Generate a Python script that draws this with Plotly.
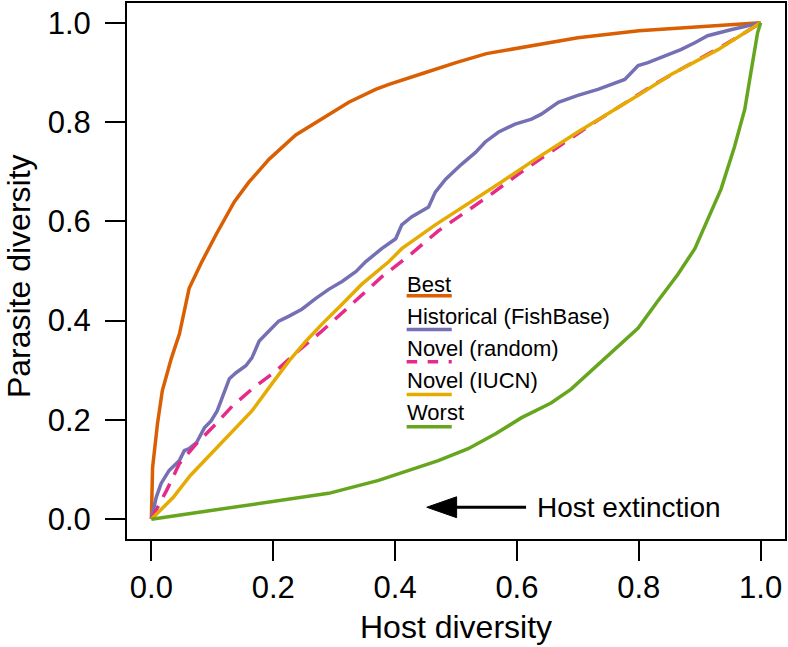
import plotly.graph_objects as go

# ---------------- data ----------------
best_x = [0, 0.002, 0.010, 0.018, 0.033, 0.046, 0.062, 0.083, 0.106, 0.136, 0.160, 0.193, 0.237,
          0.280, 0.324, 0.368, 0.390, 0.45, 0.50, 0.55, 0.635, 0.70, 0.80, 0.908, 1.0]
best_y = [0, 0.104, 0.192, 0.259, 0.325, 0.373, 0.465, 0.519, 0.573, 0.639, 0.679, 0.725, 0.774,
          0.806, 0.840, 0.866, 0.876, 0.900, 0.920, 0.938, 0.956, 0.970, 0.984, 0.992, 1.0]

hist_x = [0, 0.008, 0.016, 0.029, 0.046, 0.054, 0.062, 0.074, 0.087, 0.098, 0.108, 0.119, 0.128,
          0.139, 0.155, 0.165, 0.177, 0.193, 0.209, 0.226, 0.247, 0.270, 0.291, 0.313, 0.336,
          0.352, 0.378, 0.401, 0.411, 0.427, 0.455, 0.466, 0.483, 0.509, 0.532, 0.548, 0.570,
          0.597, 0.624, 0.640, 0.668, 0.700, 0.733, 0.777, 0.799, 0.815, 0.843, 0.869, 0.892,
          0.913, 0.951, 1.0]
hist_y = [0, 0.044, 0.072, 0.098, 0.118, 0.138, 0.142, 0.154, 0.184, 0.198, 0.218, 0.253, 0.283,
          0.295, 0.309, 0.325, 0.359, 0.379, 0.399, 0.409, 0.423, 0.445, 0.463, 0.479, 0.499,
          0.519, 0.545, 0.565, 0.593, 0.609, 0.629, 0.659, 0.685, 0.715, 0.739, 0.760, 0.780,
          0.796, 0.806, 0.816, 0.840, 0.854, 0.866, 0.886, 0.914, 0.920, 0.934, 0.946, 0.960,
          0.974, 0.986, 1.0]

random_x = [0, 0.025, 0.046, 0.074, 0.106, 0.133, 0.165, 0.205, 0.237, 0.280, 0.336, 0.378, 0.427,
            0.471, 0.516, 0.558, 0.602, 0.646, 0.689, 0.733, 0.782, 0.831, 0.880, 0.930, 0.974, 1.0]
random_y = [0, 0.058, 0.112, 0.152, 0.192, 0.228, 0.262, 0.299, 0.335, 0.379, 0.441, 0.488, 0.535,
            0.581, 0.619, 0.655, 0.695, 0.733, 0.768, 0.804, 0.842, 0.880, 0.914, 0.948, 0.980, 1.0]

iucn_x = [0, 0.036, 0.064, 0.092, 0.133, 0.165, 0.198, 0.226, 0.254, 0.280, 0.313, 0.345, 0.390,
          0.411, 0.466, 0.520, 0.574, 0.630, 0.700, 0.799, 0.853, 0.930, 1.0]
iucn_y = [0, 0.044, 0.088, 0.124, 0.178, 0.218, 0.273, 0.319, 0.359, 0.393, 0.433, 0.473, 0.519,
          0.545, 0.593, 0.635, 0.679, 0.725, 0.780, 0.854, 0.896, 0.946, 1.0]

worst_x = [0, 0.291, 0.373, 0.422, 0.471, 0.520, 0.565, 0.607, 0.656, 0.689, 0.745, 0.799, 0.831,
           0.864, 0.892, 0.913, 0.935, 0.957, 0.974, 0.984, 0.995, 1.0]
worst_y = [0, 0.052, 0.078, 0.098, 0.118, 0.142, 0.172, 0.204, 0.234, 0.262, 0.325, 0.385, 0.439,
           0.493, 0.545, 0.605, 0.665, 0.750, 0.826, 0.900, 0.980, 1.0]

series_names = ["Best", "Historical (FishBase)", "Novel (random)", "Novel (IUCN)", "Worst"]
tick_vals = [0.0, 0.2, 0.4, 0.6, 0.8, 1.0]
tick_text = ["0.0", "0.2", "0.4", "0.6", "0.8", "1.0"]

# ---------------- styling ----------------
colors = ["#D95F02", "#7570B3", "#E7298A", "#E6AB02", "#66A61E"]
dashes = ["solid", "solid", "15px,10px", "solid", "solid"]
xs = [best_x, hist_x, random_x, iucn_x, worst_x]
ys = [best_y, hist_y, random_y, iucn_y, worst_y]
LW = 3.5
FONT = "Liberation Sans, Arial, Helvetica, sans-serif"

fig = go.Figure()
for name, x, y, c, d in zip(series_names, xs, ys, colors, dashes):
    fig.add_trace(go.Scatter(x=x, y=y, mode="lines", name=name,
                             line=dict(color=c, width=LW, dash=d), showlegend=False))

# custom legend (text with line sample underneath)
leg_text_y = [0.473, 0.409, 0.344, 0.279, 0.214]
leg_line_y = [0.450, 0.382, 0.317, 0.251, 0.186]
leg_x0, leg_x1 = 0.419, 0.493
shapes = []
annotations = []
for name, c, d, ty, ly in zip(series_names, colors, dashes, leg_text_y, leg_line_y):
    annotations.append(dict(x=leg_x0 - 0.002, y=ty, xref="x", yref="y", text=name, showarrow=False,
                            xanchor="left", yanchor="middle",
                            font=dict(size=22, color="black", family=FONT)))
    shapes.append(dict(type="line", xref="x", yref="y", x0=leg_x0, x1=leg_x1, y0=ly, y1=ly,
                       line=dict(color=c, width=LW, dash="dash" if d != "solid" else "solid")))

# host extinction arrow
shapes.append(dict(type="line", xref="x", yref="y", x0=0.49, x1=0.615, y0=0.024, y1=0.024,
                   line=dict(color="black", width=3)))
shapes.append(dict(type="path", xref="x", yref="y",
                   path="M 0.452,0.024 L 0.501,0.045 L 0.501,0.003 Z",
                   fillcolor="black", line=dict(color="black", width=1)))
annotations.append(dict(x=0.630, y=0.024, xref="x", yref="y", text="Host extinction",
                        showarrow=False, xanchor="left", yanchor="middle",
                        font=dict(size=28, color="black", family=FONT)))

# axis titles
annotations.append(dict(x=0.5, y=-0.164, xref="paper", yref="paper", text="Host diversity",
                        showarrow=False, xanchor="center", yanchor="middle",
                        font=dict(size=32, color="black", family=FONT)))
annotations.append(dict(x=-0.163, y=0.49, xref="paper", yref="paper", text="Parasite diversity",
                        showarrow=False, xanchor="center", yanchor="middle", textangle=-90,
                        font=dict(size=32, color="black", family=FONT)))

axis_common = dict(range=[-0.04, 1.04], tickvals=tick_vals, ticktext=tick_text,
                   ticks="outside", ticklen=20, tickwidth=2, tickcolor="black",
                   showline=True, linewidth=2, linecolor="black", mirror=True,
                   showgrid=False, zeroline=False,
                   tickfont=dict(size=31, color="black", family=FONT))

fig.update_layout(
    width=788, height=647,
    margin=dict(l=127, r=1, t=1, b=108),
    paper_bgcolor="white", plot_bgcolor="white",
    xaxis=dict(**axis_common, ticklabelstandoff=0),
    yaxis=dict(**axis_common, ticklabelstandoff=8),
    shapes=shapes, annotations=annotations,
    font=dict(family=FONT),
)

fig.write_html("out.html", config={"displayModeBar": False},
               post_script="document.body.style.margin='0';document.body.style.padding='0';document.body.style.overflow='hidden';")
